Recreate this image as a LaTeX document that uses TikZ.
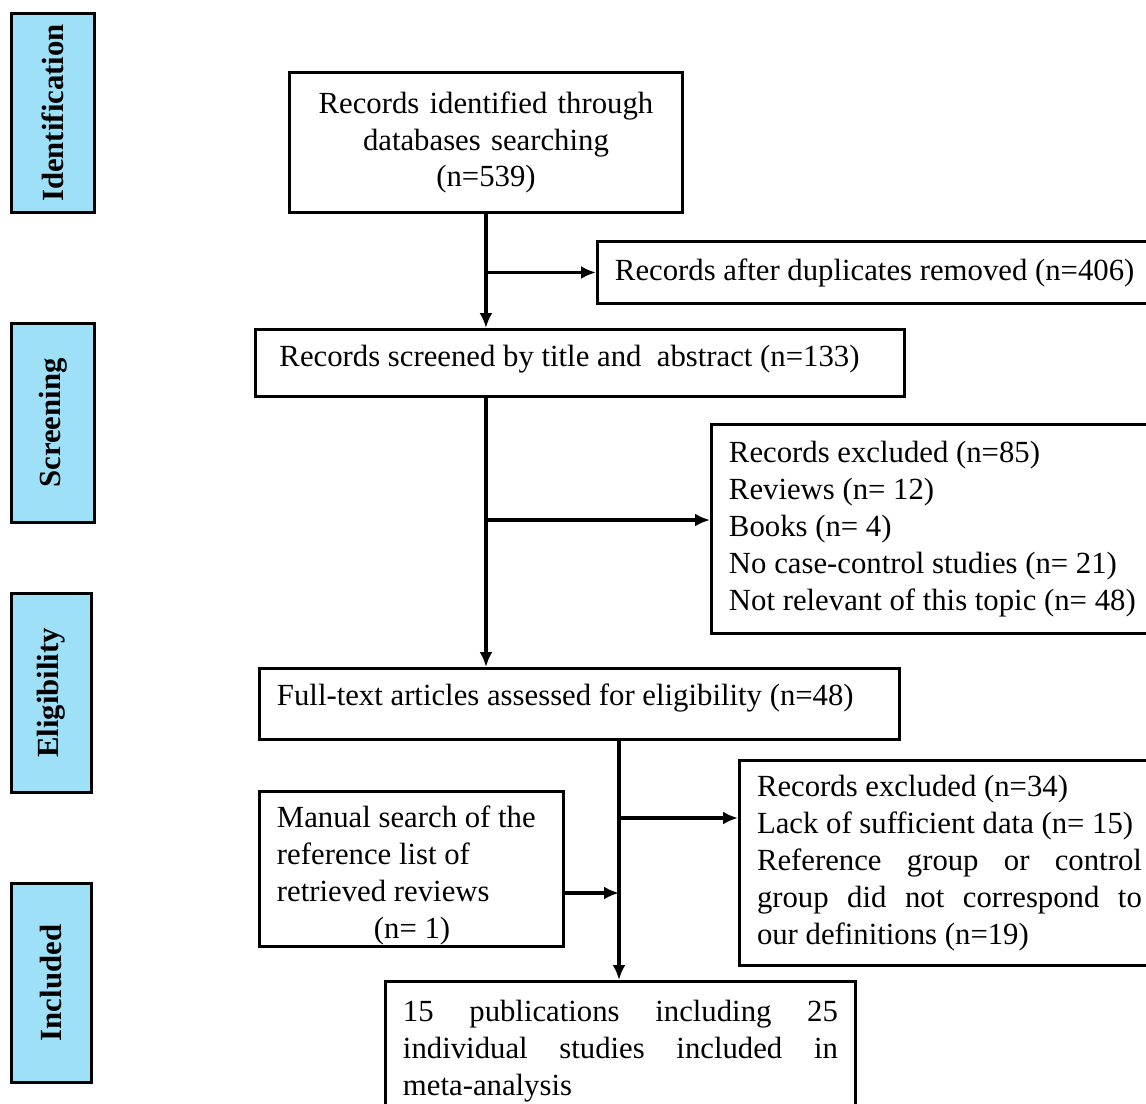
\documentclass[tikz,border=0pt]{standalone}
\usepackage{fontspec}
\setmainfont{Liberation Serif}
\usepackage{graphicx}
\usetikzlibrary{arrows.meta}
\definecolor{phaseblue}{RGB}{158,224,247}
\tikzset{x=0.02cm, y=-0.02cm,
    every node/.style={font=\fontsize{17.5}{21}\selectfont},
    box/.style={
        draw,
        line width=1.7pt,
        anchor=north west,
        inner ysep=0pt,
        inner xsep=0.35cm,
        align=justify},
    phase/.style={
        box,
        fill=phaseblue,
        minimum width=1.66cm,
        minimum height=3.98cm,
        font=\fontsize{17.5}{21}\selectfont\bfseries},
    arr/.style={
        draw,
        line width=1.8pt,
        -{Latex[length=0.3cm,width=0.26cm]}}}

\begin{document}
\begin{tikzpicture}
        \useasboundingbox (0,0) rectangle (1146,1103);
        \clip (0,0) rectangle (1146,1103);
        \node[phase, align=center] (p1) at (10,12) {\rotatebox{90}{Identification}};
        \node[phase, align=center] (p2) at (10,322) {\rotatebox{90}{Screening}};
        \node[phase, align=center, minimum width=1.6cm] (p3) at (10,592) {\rotatebox{90}{Eligibility}};
        \node[phase, align=center, minimum width=1.6cm] (p4) at (10,882) {\rotatebox{90}{Included}};
        \node[box, text width=7.16cm, minimum height=2.8cm, align=center] (iden) at (288,71)
            {Records identified through\\databases searching\\(n=539)};
        \node[box, text width=10.7cm, minimum height=1.24cm] (dup) at (596,240)
            {Records after duplicates removed (n=406)};
        \node[box, inner xsep=0.48cm, text width=12.02cm, minimum height=1.34cm, text height=0.43cm, text depth=0.3cm] (scr) at (254,328)
            {Records screened by title and\ \ abstract (n=133)};
        \node[box, text width=9.6cm, minimum height=4.18cm] (exc1) at (710,423)
            {Records excluded (n=85)\\Reviews (n= 12)\\Books (n= 4)\\No case-control studies (n= 21)\\Not relevant of this topic (n= 48)};
        \node[box, text width=12.1cm, minimum height=1.42cm, text height=0.43cm, text depth=0.37cm] (full) at (258,667)
            {Full-text articles assessed for eligibility (n=48)};
        \node[box, text width=7.7cm, minimum height=4.1cm] (exc2) at (738,759)
            {Records excluded (n=34)\\Lack of sufficient data (n= 15)\\Reference group or control\linebreak group did not correspond to\linebreak our definitions (n=19)};
        \node[box, text width=5.38cm, minimum height=3.1cm] (man) at (258,790)
            {\rule{0pt}{0.7cm}Manual search of the\\reference list of\\retrieved reviews\\\hspace*{1.94cm}(n= 1)};
        \node[box, text width=8.7cm, minimum height=2.8cm] (incl) at (384,980)
            {15 publications including 25\linebreak individual studies included in\linebreak meta-analysis};
        \coordinate (s1) at (486,395);
        \coordinate (b1) at (486,520);
        \coordinate (f1) at (619,738);
        \coordinate (b2) at (619,818);
        \coordinate (m1) at (562,893);
        \draw[arr] (iden.south) -- (iden.south |- scr.north);
        \draw[arr] (iden.south |- dup.west) -- (dup.west);
        \draw[arr] (s1) -- (s1 |- full.north);
        \draw[arr] (b1) -- (b1 -| exc1.west);
        \draw[arr] (f1) -- (f1 |- incl.north);
        \draw[arr] (b2) -- (b2 -| exc2.west);
        \draw[arr] (m1) -- (m1 -| f1);
    \end{tikzpicture}
\end{document}
